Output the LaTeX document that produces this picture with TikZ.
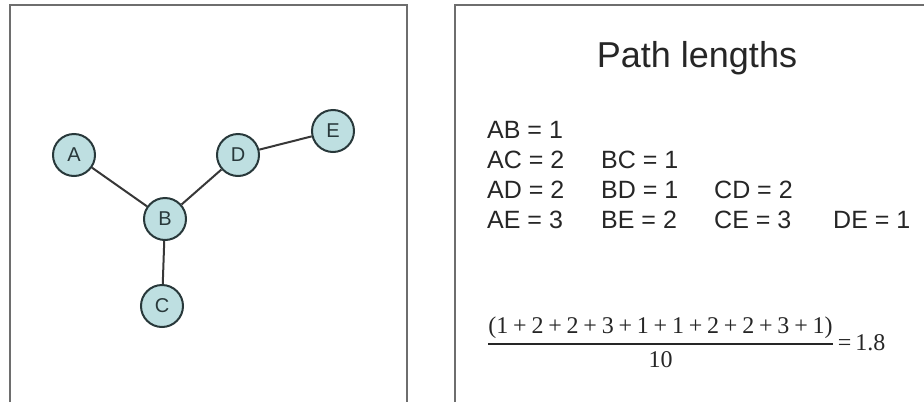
\documentclass[tikz,border=0pt]{standalone}
\usepackage{fontspec}
\setmainfont{Liberation Sans}
\newfontfamily\fracfont{Liberation Serif}
\usetikzlibrary{positioning}
\definecolor{vertexfill}{RGB}{190,223,225}
\definecolor{vertexline}{RGB}{40,56,58}
\definecolor{linkgray}{RGB}{55,55,55}
\definecolor{panelgray}{RGB}{110,110,110}
\def\dsize{\fontsize{25}{25}\selectfont}

\begin{document}
\begin{tikzpicture}[vertex/.style={circle, draw=vertexline, fill=vertexfill, line width=2pt, minimum size=42pt, inner sep=0pt, text=vertexline, font=\fontsize{20}{20}\selectfont}, link/.style={draw=linkgray, line width=2pt}, panel/.style={draw=panelgray, line width=2.4pt}, dist/.style={anchor=base west, inner sep=0pt, text=black!85, font=\dsize}]
	\useasboundingbox (0.0pt, 0.0pt) rectangle (924.0pt, -402.0pt);
	% the two panels
	\draw[panel] (10.0pt, -402.0pt) -- (10.0pt, -5.0pt) -- (407.0pt, -5.0pt) -- (407.0pt, -402.0pt);
	\draw[panel] (455.0pt, -402.0pt) -- (455.0pt, -5.0pt) -- (924.0pt, -5.0pt);
	% the graph
	\draw (74.0pt, -155.0pt)node[vertex](A){A};
	\draw (165.0pt, -219.0pt)node[vertex](B){B};
	\draw (162.0pt, -306.0pt)node[vertex](C){C};
	\draw (238.0pt, -155.0pt)node[vertex](D){D};
	\draw (333.0pt, -131.0pt)node[vertex](E){E};
	\path[link] (A) edge (B);
	\path[link] (B) edge (C);
	\path[link] (B) edge (D);
	\path[link] (D) edge (E);
	% the path lengths
	\draw (697.0pt, -67.0pt)node[anchor=base, inner sep=0pt, text=black!85, font=\fontsize{36}{36}\selectfont](title){Path lengths};
	\draw (487.0pt, -138.0pt)node[dist](ab){AB = 1};
	\draw (487.0pt, -168.0pt)node[dist](ac){AC = 2};
	\draw (601.0pt, -168.0pt)node[dist](bc){BC = 1};
	\draw (487.0pt, -198.0pt)node[dist](ad){AD = 2};
	\draw (601.0pt, -198.0pt)node[dist](bd){BD = 1};
	\draw (714.0pt, -198.0pt)node[dist](cd){CD = 2};
	\draw (487.0pt, -228.0pt)node[dist](ae){AE = 3};
	\draw (601.0pt, -228.0pt)node[dist](be){BE = 2};
	\draw (714.0pt, -228.0pt)node[dist](ce){CE = 3};
	\draw (833.0pt, -228.0pt)node[dist](de){DE = 1};
	% the mean
	\draw (487.0pt, -350.0pt)node[anchor=base west, inner sep=0pt, text=black!85, font=\fracfont\fontsize{24}{24}\selectfont](mean){$\displaystyle{\hbox{\spaceskip=0.2em (1 + 2 + 2 + 3 + 1 + 1 + 2 + 2 + 3 + 1)}\above 1.6pt\hbox{10}}$\,=\,1.8};
\end{tikzpicture}
\end{document}
